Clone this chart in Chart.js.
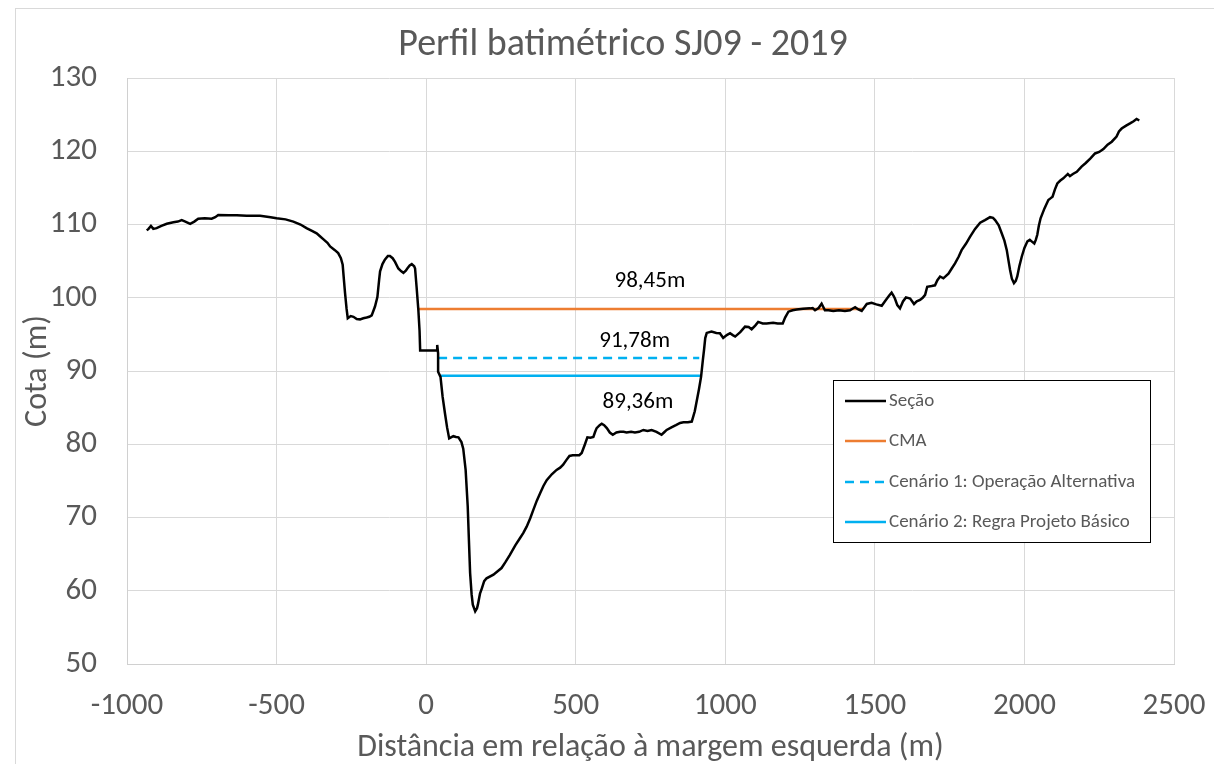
<!DOCTYPE html>
<html>
<head>
<meta charset="utf-8">
<script src="https://cdn.jsdelivr.net/npm/chart.js@4"></script>
<style>
  html, body { margin: 0; padding: 0; background: #fff; overflow: hidden; }
  #frame { position: absolute; left: 15px; top: 8px; width: 1214px; height: 770px; border: 1px solid #d9d9d9; }
  #c { position: absolute; left: 0; top: 0; }
</style>
</head>
<body>
<div id="frame"></div>
<canvas id="c" width="1214" height="764"></canvas>
<script>
// perfil da secao (distancia, cota)
const secaoX = [
  -934, -928, -920, -912, -901, -885, -867, -845, -830, -817, -805, -789, -775, -762, -740, -717, -705, -695,
  -660, -633, -600, -555, -520, -500, -470, -444, -420, -400, -380, -366, -355, -344, -330, -321, -305, -294,
  -285, -279, -275, -271, -266, -262, -252, -243, -232, -221, -210, -199, -190, -182, -171, -163, -157, -154,
  -146, -138, -128, -121, -112, -104, -93, -83, -76, -68, -63, -55, -48, -40, -37, -32, -26, -22, -20,
  37, 37, 40, 40, 48, 55, 63, 70, 77, 91, 100, 108, 118, 124, 132, 139, 143, 147, 152, 156, 164, 170, 173,
  180, 186, 194, 202, 225, 240, 252, 265, 280, 298, 314, 325, 336, 348, 358, 370, 381, 392, 403, 420, 436,
  448, 458, 468, 479, 490, 503, 512, 520, 530, 539, 549, 559, 565, 570, 580, 587, 595, 604, 614, 624, 636,
  648, 660, 670, 685, 698, 712, 726, 740, 754, 770, 787, 795, 804, 820, 835, 849, 860, 875, 888, 898, 905,
  912, 919, 925, 929, 933, 938, 954, 970, 982, 993, 1005, 1016, 1025, 1033, 1050, 1066, 1078, 1088, 1100,
  1110, 1125, 1138, 1160, 1175, 1192, 1200, 1211, 1225, 1239, 1260, 1283, 1292, 1300, 1312, 1322, 1328,
  1333, 1345, 1361, 1380, 1400, 1417, 1425, 1434, 1445, 1456, 1465, 1473, 1489, 1505, 1523, 1535, 1548,
  1556, 1562, 1567, 1575, 1584, 1594, 1604, 1618, 1625, 1631, 1640, 1651, 1660, 1668, 1675, 1690, 1701,
  1709, 1718, 1729, 1746, 1757, 1768, 1780, 1790, 1805, 1818, 1835, 1852, 1868, 1885, 1895, 1902, 1914,
  1924, 1933, 1941, 1947, 1952, 1958, 1965, 1971, 1976, 1983, 1991, 2000, 2010, 2018, 2024, 2033, 2038,
  2043, 2048, 2054, 2067, 2080, 2088, 2094, 2102, 2110, 2120, 2130, 2145, 2152, 2162, 2175, 2191, 2205,
  2220, 2236, 2250, 2264, 2278, 2292, 2308, 2316, 2325, 2340, 2353, 2365, 2375, 2384
];
const secaoY = [
  109.2, 109.4, 109.8, 109.4, 109.5, 109.8, 110.1, 110.3, 110.4, 110.6, 110.4, 110.1, 110.4, 110.8, 110.85, 110.8, 111.0, 111.3,
  111.25, 111.25, 111.2, 111.2, 111.0, 110.85, 110.7, 110.4, 110.0, 109.5, 109.1, 108.8, 108.4, 108.0, 107.5, 107.0, 106.5, 106.1,
  105.4, 104.5, 102.5, 100.6, 98.5, 97.2, 97.5, 97.4, 97.1, 97.05, 97.2, 97.3, 97.4, 97.6, 98.8, 100.1, 102.5, 103.6,
  104.6, 105.2, 105.7, 105.7, 105.4, 104.9, 104.0, 103.6, 103.4, 103.7, 104.0, 104.4, 104.6, 104.3, 104.0, 101.5, 98.3, 95.5, 92.8,
  92.8, 93.55, 92.4, 89.9, 89.2, 86.5, 84.2, 82.3, 80.8, 81.1, 81.0, 80.95, 80.3, 79.4, 76.5, 71.5, 66.9, 62.4, 59.5, 58.1, 57.2, 57.6, 58.1,
  59.6, 60.3, 61.3, 61.7, 62.2, 62.7, 63.1, 63.9, 64.9, 66.2, 67.2, 67.9, 68.75, 69.9, 71.0, 72.3, 73.3, 74.3, 75.1, 75.9, 76.5,
  76.8, 77.2, 77.8, 78.4, 78.5, 78.5, 78.5, 78.8, 79.9, 80.95, 80.9, 81.0, 81.7, 82.2, 82.6, 82.8, 82.6, 82.2, 81.6, 81.3, 81.6,
  81.7, 81.7, 81.6, 81.7, 81.6, 81.7, 81.95, 81.8, 81.95, 81.7, 81.3, 81.6, 81.95, 82.3, 82.6, 82.9, 83.0, 83.0, 83.1, 84.5, 86.0,
  87.5, 89.2, 91.5, 92.9, 94.5, 95.2, 95.4, 95.2, 95.15, 94.5, 94.9, 95.15, 94.9, 94.7, 95.3, 96.05, 96.0, 95.7, 96.2,
  96.7, 96.5, 96.5, 96.6, 96.5, 96.5, 97.3, 98.1, 98.3, 98.4, 98.5, 98.55, 98.6, 98.3, 98.6, 99.2, 98.7,
  98.3, 98.3, 98.2, 98.3, 98.2, 98.3, 98.5, 98.7, 98.4, 98.2, 98.7, 99.15, 99.3, 99.1, 98.9, 99.6, 100.3,
  100.7, 100.3, 99.9, 99.0, 98.55, 99.5, 100.05, 99.9, 99.5, 99.15, 99.5, 99.7, 100.0, 100.4, 101.5, 101.6, 101.7,
  102.4, 102.9, 102.65, 103.3, 104.0, 104.7, 105.6, 106.5, 107.4, 108.3, 109.4, 110.25, 110.6, 111.0, 110.9, 110.6, 109.9,
  108.8, 107.8, 106.5, 105.0, 103.8, 102.6, 102.0, 102.3, 102.9, 104.3, 105.6, 106.8, 107.7, 107.9, 107.7, 107.4, 107.9,
  108.6, 109.8, 110.85, 112.2, 113.35, 113.6, 113.8, 114.8, 115.6, 116.0, 116.3, 116.9, 116.6, 116.9, 117.2, 117.9, 118.4,
  119.0, 119.7, 119.9, 120.3, 120.9, 121.3, 122.0, 122.7, 123.1, 123.5, 123.8, 124.1, 124.4, 124.2
];

// niveis horizontais
const cmaX = [-26, 1461];
const cmaY = [98.45, 98.45];
const cen1X = [40, 913];
const cen1Y = [91.78, 91.78];
const cen2X = [50, 921];
const cen2Y = [89.36, 89.36];

// rotulos dos niveis
const rotulos = ['98,45m', '91,78m', '89,36m'];
const rotuloX = [748, 697, 708];
const rotuloY = [102.3, 94.0, 85.7];

const nomes = ['Seção', 'CMA', 'Cenário 1: Operação Alternativa', 'Cenário 2: Regra Projeto Básico'];
const titulo = 'Perfil batimétrico SJ09 - 2019';

const xMin = -1000, xMax = 2500, xStep = 500;
const yMin = 50, yMax = 130, yStep = 10;

const FONT = 'Carlito, Lato, sans-serif';
const GREY = '#595959';

const pts = (xs, ys) => xs.map((x, i) => ({ x: x, y: ys[i] }));

const tituloPlugin = {
  id: 'titulo',
  afterDraw(chart) {
    const ctx = chart.ctx;
    ctx.save();
    ctx.font = '38px ' + FONT;
    ctx.fillStyle = GREY;
    ctx.textAlign = 'center';
    ctx.textBaseline = 'middle';
    ctx.fillText(titulo, 623, 45);
    ctx.restore();
  }
};

const rotulosPlugin = {
  id: 'rotulos',
  afterDatasetsDraw(chart) {
    const ctx = chart.ctx;
    const sx = chart.scales.x, sy = chart.scales.y;
    ctx.save();
    ctx.font = '23px ' + FONT;
    ctx.fillStyle = '#000';
    ctx.textAlign = 'center';
    ctx.textBaseline = 'middle';
    rotulos.forEach((t, i) => {
      ctx.fillText(t, sx.getPixelForValue(rotuloX[i]), sy.getPixelForValue(rotuloY[i]));
    });
    ctx.restore();
  }
};

// legenda em caixa dentro da area do grafico
const legendaPlugin = {
  id: 'legendaCaixa',
  afterDraw(chart) {
    const ctx = chart.ctx;
    const bx = 833.5, by = 380.5, bw = 317, bh = 162;
    const rows = [401, 441, 482, 522];
    ctx.save();
    ctx.fillStyle = '#fff';
    ctx.fillRect(bx, by, bw, bh);
    ctx.strokeStyle = '#000';
    ctx.lineWidth = 1;
    ctx.strokeRect(bx, by, bw, bh);
    ctx.font = '19px ' + FONT;
    ctx.textBaseline = 'middle';
    ctx.textAlign = 'left';
    chart.data.datasets.forEach((ds, i) => {
      const yy = rows[i];
      ctx.strokeStyle = ds.borderColor;
      ctx.lineWidth = ds.borderWidth;
      ctx.setLineDash(ds.borderDash || []);
      ctx.beginPath();
      ctx.moveTo(845, yy);
      ctx.lineTo(886, yy);
      ctx.stroke();
      ctx.setLineDash([]);
      ctx.fillStyle = GREY;
      ctx.fillText(ds.label, 889, yy);
    });
    ctx.restore();
  }
};

new Chart(document.getElementById('c'), {
  type: 'line',
  data: {
    datasets: [
      { label: nomes[0], data: pts(secaoX, secaoY), borderColor: '#000000', borderWidth: 2.5, pointRadius: 0, tension: 0 },
      { label: nomes[1], data: pts(cmaX, cmaY), borderColor: '#ED7D31', borderWidth: 2.5, pointRadius: 0 },
      { label: nomes[2], data: pts(cen1X, cen1Y), borderColor: '#00B0F0', borderWidth: 2.5, borderDash: [9, 6], pointRadius: 0 },
      { label: nomes[3], data: pts(cen2X, cen2Y), borderColor: '#00B0F0', borderWidth: 2.5, pointRadius: 0 }
    ]
  },
  options: {
    responsive: false,
    animation: false,
    devicePixelRatio: 1,
    layout: { padding: { left: 0, right: 40, top: 78, bottom: 0 } },
    plugins: {
      legend: { display: false },
      tooltip: { enabled: false },
      title: { display: false }
    },
    scales: {
      x: {
        type: 'linear',
        min: xMin, max: xMax,
        afterFit(scale) {
          scale.height = 100;
          scale.paddingLeft = 0;
          scale.paddingRight = 0;
        },
        ticks: {
          stepSize: xStep, color: GREY, font: { family: FONT, size: 31 }, padding: 24, maxRotation: 0,
          callback: (v) => String(v)
        },
        grid: { color: '#d9d9d9', drawTicks: false },
        border: { color: '#d0d0d0' },
        title: {
          display: true,
          text: 'Distância em relação à margem esquerda (m)',
          color: GREY,
          font: { family: FONT, size: 32, lineHeight: 1 },
          padding: { top: 0, bottom: 0 }
        }
      },
      y: {
        min: yMin, max: yMax,
        afterFit(scale) {
          scale.width = 127;
          scale.paddingTop = 0;
          scale.paddingBottom = 0;
        },
        ticks: {
          stepSize: yStep, color: GREY, font: { family: FONT, size: 31 }, padding: 30,
          callback: (v) => String(v)
        },
        grid: { color: '#d9d9d9', drawTicks: false },
        border: { color: '#d0d0d0' },
        title: {
          display: true,
          text: 'Cota (m)',
          color: GREY,
          font: { family: FONT, size: 32, lineHeight: 1 },
          padding: { top: 22, bottom: 0 }
        }
      }
    }
  },
  plugins: [tituloPlugin, rotulosPlugin, legendaPlugin]
});
</script>
</body>
</html>
